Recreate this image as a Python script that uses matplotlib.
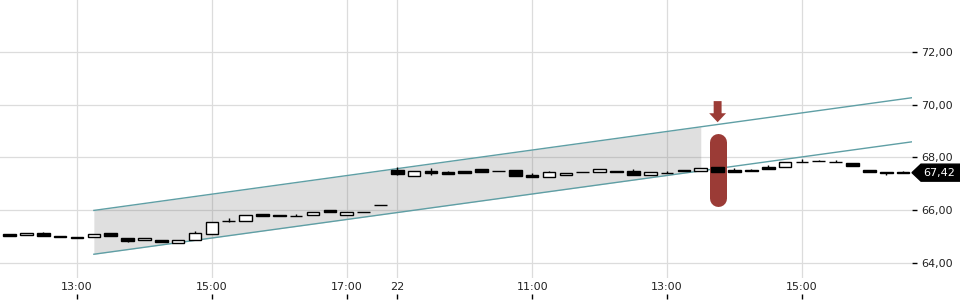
import numpy as np
import matplotlib
matplotlib.use("Agg")
import matplotlib.pyplot as plt
from matplotlib.patches import Polygon, FancyArrow
from matplotlib.ticker import FuncFormatter
from matplotlib.transforms import blended_transform_factory

# 15 minute candles, day 1 12:00-17:30, day 22 09:00-16:30
opens = [65.08, 65.04, 65.12, 65.03, 64.97, 64.99, 65.12, 64.96, 64.88, 64.88,
         64.77, 64.86, 65.08, 65.58, 65.58, 65.84, 65.80, 65.79, 65.80, 66.00,
         65.83, 65.92, 66.19,
         67.52, 67.30, 67.47, 67.43, 67.48, 67.56, 67.48, 67.52, 67.33, 67.24,
         67.32, 67.43, 67.43, 67.49, 67.50, 67.32, 67.42, 67.52, 67.49, 67.63,
         67.53, 67.51, 67.64, 67.62, 67.84, 67.85, 67.84, 67.78, 67.52, 67.45,
         67.43]
closes = [65.02, 65.12, 65.03, 64.99, 64.96, 65.09, 65.03, 64.84, 64.96, 64.81,
          64.86, 65.12, 65.55, 65.60, 65.81, 65.79, 65.77, 65.77, 65.93, 65.92,
          65.92, 65.92, 66.19,
          67.37, 67.48, 67.41, 67.38, 67.42, 67.44, 67.48, 67.30, 67.24, 67.43,
          67.40, 67.43, 67.55, 67.44, 67.32, 67.44, 67.42, 67.47, 67.58, 67.46,
          67.44, 67.47, 67.57, 67.81, 67.84, 67.85, 67.84, 67.68, 67.43, 67.40,
          67.42]
highs = [65.08, 65.15, 65.16, 65.03, 65.00, 65.09, 65.12, 64.96, 64.96, 64.88,
         64.86, 65.20, 65.55, 65.70, 65.81, 65.84, 65.80, 65.85, 65.93, 66.00,
         65.92, 65.92, 66.19,
         67.65, 67.48, 67.60, 67.49, 67.48, 67.56, 67.48, 67.52, 67.39, 67.49,
         67.40, 67.43, 67.55, 67.49, 67.55, 67.44, 67.47, 67.52, 67.58, 67.63,
         67.58, 67.56, 67.70, 67.81, 67.92, 67.91, 67.91, 67.78, 67.52, 67.45,
         67.49]
lows = [65.02, 65.04, 65.03, 64.99, 64.96, 64.99, 65.03, 64.79, 64.88, 64.81,
        64.77, 64.86, 65.08, 65.57, 65.58, 65.79, 65.77, 65.77, 65.80, 65.92,
        65.83, 65.92, 66.19,
        67.32, 67.30, 67.34, 67.38, 67.42, 67.44, 67.48, 67.30, 67.24, 67.24,
        67.32, 67.43, 67.43, 67.44, 67.32, 67.32, 67.42, 67.47, 67.49, 67.46,
        67.44, 67.47, 67.57, 67.62, 67.84, 67.85, 67.84, 67.68, 67.43, 67.32,
        67.42]

tick_pos = [4, 12, 20, 23, 31, 39, 47]
tick_labels = ["13:00", "15:00", "17:00", "22", "11:00", "13:00", "15:00"]

# trend channel (bar index, price)
chan_x = [5, 54]
chan_upper = [65.99, 70.30]
chan_lower = [64.33, 68.63]
fill_end = 41

# signal marker
signal_bar = 42
signal_low = 66.15
signal_high = 68.92
arrow_top = 70.13
arrow_bottom = 69.33

last_price = closes[-1]

fig = plt.figure(figsize=(9.6, 3.0), dpi=100)
ax = fig.add_axes([0, 22 / 300, 912 / 960, 278 / 300])

x = np.arange(len(opens))
o = np.array(opens)
c = np.array(closes)
up = c >= o

ax.set_xlim(-0.567, 53.53)
ax.set_ylim(63.43, 73.96)

# grid
for v in [64, 66, 68, 70, 72]:
    ax.axhline(v, color="#dcdcdc", lw=0.9, zorder=0)
for p in tick_pos:
    ax.axvline(p, color="#dcdcdc", lw=0.9, zorder=0)

# channel
fx = np.linspace(chan_x[0], fill_end, 2)
ax.fill_between(fx, np.interp(fx, chan_x, chan_lower), np.interp(fx, chan_x, chan_upper),
                color="#808080", alpha=0.25, lw=0, zorder=1)
ax.plot(chan_x, chan_upper, color="#5f9fa5", lw=1, zorder=2)
ax.plot(chan_x, chan_lower, color="#5f9fa5", lw=1, zorder=2)

# signal
red = "#9b3b36"
cap = 8.5 / 26.4
ax.plot([signal_bar, signal_bar], [signal_low + cap, signal_high - cap], color=red,
        lw=17 * 0.72, solid_capstyle="round", zorder=3)
ax.add_patch(FancyArrow(signal_bar, arrow_top, 0, arrow_bottom - arrow_top, width=0.47,
                        head_width=1.0, head_length=0.34, length_includes_head=True,
                        color=red, lw=0, zorder=3))

# candles
ax.vlines(x, lows, highs, color="black", lw=1, zorder=4)
ax.bar(x, np.abs(c - o), bottom=np.minimum(o, c), width=0.75,
       color=np.where(up, "white", "black"), edgecolor="black", lw=1, zorder=5)

for s in ax.spines.values():
    s.set_visible(False)

ax.yaxis.tick_right()
ax.set_yticks([64, 66, 68, 70, 72])
ax.yaxis.set_major_formatter(FuncFormatter(lambda v, p: f"{v:.2f}".replace(".", ",")))
ax.tick_params(axis="y", length=3.6, width=1, color="black", pad=3, labelsize=8,
               labelcolor="#222222")
ax.set_xticks(tick_pos)
ax.set_xticklabels(tick_labels)
ax.tick_params(axis="x", length=0, pad=3, labelsize=8, labelcolor="#222222")

# little ticks under the time labels
btr = blended_transform_factory(ax.transData, ax.transAxes)
ax.vlines(tick_pos, -0.058, -0.075, color="black", lw=1, transform=btr, clip_on=False)

# last price tag
tr = blended_transform_factory(fig.transFigure, ax.transData)
h = 8.5 / 26.4
tag = Polygon([(912 / 960, last_price), (921 / 960, last_price + h), (1.0, last_price + h),
               (1.0, last_price - h), (921 / 960, last_price - h)],
              closed=True, transform=tr, color="black", clip_on=False, zorder=6)
ax.add_patch(tag)
ax.text(939 / 960, last_price, f"{last_price:.2f}".replace(".", ","), transform=tr,
        color="white", fontsize=8, ha="center", va="center", zorder=7)

fig.savefig("out.png", dpi=100)
